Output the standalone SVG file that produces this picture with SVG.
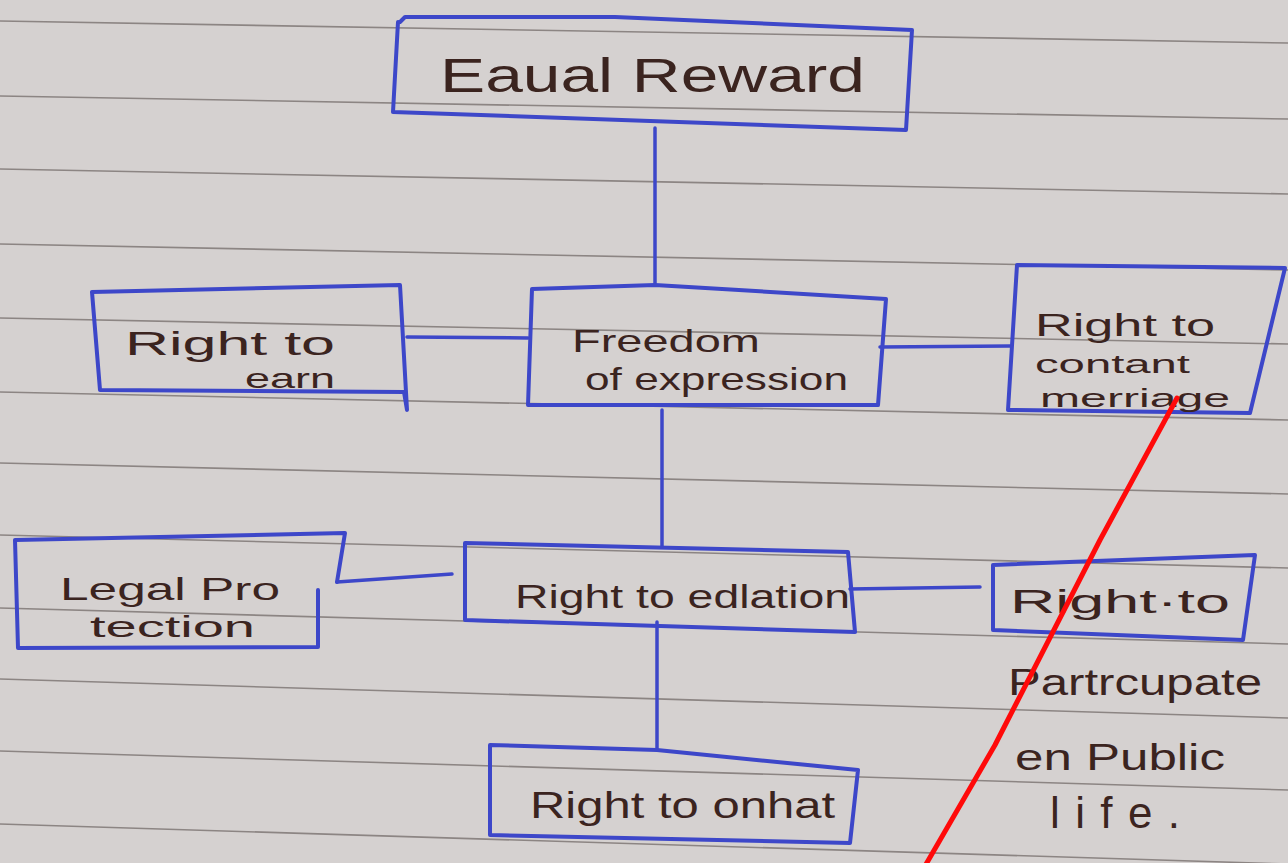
<svg xmlns="http://www.w3.org/2000/svg" width="1288" height="863" viewBox="0 0 1288 863">
<defs>
<style>
.box{fill:none;stroke:#3d47c9;stroke-width:4;stroke-linejoin:round;stroke-linecap:round}
.con{fill:none;stroke:#3d47c9;stroke-width:3.5;stroke-linecap:round}
.rule{stroke:#8c8583;stroke-width:1.6}
.t{font-family:"Liberation Sans","DejaVu Sans",sans-serif;fill:#3b241f}
</style>
</defs>
<rect x="0" y="0" width="1288" height="863" fill="#d5d1d0"/>
<g id="paper-lines">
<line class="rule" x1="0" y1="21" x2="1288" y2="43"/>
<line class="rule" x1="0" y1="96" x2="1288" y2="119"/>
<line class="rule" x1="0" y1="169" x2="1288" y2="194"/>
<line class="rule" x1="0" y1="244" x2="1288" y2="270"/>
<line class="rule" x1="0" y1="318" x2="1288" y2="344"/>
<line class="rule" x1="0" y1="392" x2="1288" y2="420"/>
<line class="rule" x1="0" y1="463" x2="1288" y2="494"/>
<line class="rule" x1="0" y1="535" x2="1288" y2="568"/>
<line class="rule" x1="0" y1="608" x2="1288" y2="644"/>
<line class="rule" x1="0" y1="679" x2="1288" y2="718"/>
<line class="rule" x1="0" y1="751" x2="1288" y2="790"/>
<line class="rule" x1="0" y1="824" x2="1288" y2="864"/>
</g>
<g id="connectors">
<path class="con" d="M655 128 L655 285"/>
<path class="con" d="M528 338 L407 337"/>
<path class="con" d="M880 347 L1010 346"/>
<path class="con" d="M662 410 L662 546"/>
<path class="con" d="M452 574 L337 582"/>
<path class="con" d="M850 589 L980 587"/>
<path class="con" d="M657 622 L657 750"/>
</g>
<g id="equal-reward">
<path class="box" d="M400 22 L405 17 L615 17 L912 30 L906 130 L393 112 L398 22"/>
<text class="t" style="font-size:48px" x="440" y="92" textLength="425" lengthAdjust="spacingAndGlyphs">Eaual Reward</text>
</g>
<g id="right-to-earn">
<path class="box" d="M92 292 L400 285 L407 410 L404 392 L100 390 Z"/>
<text class="t" style="font-size:34px" x="125" y="355" textLength="210" lengthAdjust="spacingAndGlyphs">Right to</text>
<text class="t" style="font-size:28px" x="245" y="388" textLength="90" lengthAdjust="spacingAndGlyphs">earn</text>
</g>
<g id="freedom-of-expression">
<path class="box" d="M532 289 L655 285 L886 299 L878 405 L528 405 Z"/>
<text class="t" style="font-size:32px" x="572" y="352" textLength="188" lengthAdjust="spacingAndGlyphs">Freedom</text>
<text class="t" style="font-size:32px" x="585" y="390" textLength="263" lengthAdjust="spacingAndGlyphs">of expression</text>
</g>
<g id="right-to-contant-merriage">
<path class="box" d="M1017 265 L1285 268 L1250 413 L1008 410 Z"/>
<text class="t" style="font-size:32px" x="1035" y="336" textLength="180" lengthAdjust="spacingAndGlyphs">Right to</text>
<text class="t" style="font-size:26px" x="1035" y="373" textLength="155" lengthAdjust="spacingAndGlyphs">contant</text>
<text class="t" style="font-size:26px" x="1040" y="407" textLength="190" lengthAdjust="spacingAndGlyphs">merriage</text>
</g>
<g id="legal-protection">
<path class="box" d="M15 540 L345 533 L337 582 M318 590 L318 647 L18 648 L15 540"/>
<text class="t" style="font-size:32px" x="60" y="600" textLength="220" lengthAdjust="spacingAndGlyphs">Legal Pro</text>
<text class="t" style="font-size:30px" x="90" y="637" textLength="165" lengthAdjust="spacingAndGlyphs">tection</text>
</g>
<g id="right-to-edlation">
<path class="box" d="M465 543 L848 552 L855 632 L465 620 Z"/>
<text class="t" style="font-size:34px" x="515" y="608" textLength="335" lengthAdjust="spacingAndGlyphs">Right to edlation</text>
</g>
<g id="right-to-participate">
<path class="box" d="M993 565 L1255 555 L1243 640 L993 630 Z"/>
<text class="t" style="font-size:34px" x="1010" y="613" textLength="220" lengthAdjust="spacingAndGlyphs">Right·to</text>
<text class="t" style="font-size:36px" x="1008" y="695" textLength="254" lengthAdjust="spacingAndGlyphs">Partrcupate</text>
<text class="t" style="font-size:36px" x="1015" y="770" textLength="210" lengthAdjust="spacingAndGlyphs">en Public</text>
<text class="t" style="font-size:44px" x="1050" y="828" textLength="130" lengthAdjust="spacing">life.</text>
</g>
<g id="right-to-onhat">
<path class="box" d="M490 745 L657 750 L858 770 L850 843 L490 835 Z"/>
<text class="t" style="font-size:36px" x="530" y="818" textLength="305" lengthAdjust="spacingAndGlyphs">Right to onhat</text>
</g>
<g id="red-mark">
<polyline points="1177,398 1100,540 995,745 925,866" fill="none" stroke="#ff0a0a" stroke-width="5" stroke-linecap="round" stroke-linejoin="round"/>
</g>
</svg>
